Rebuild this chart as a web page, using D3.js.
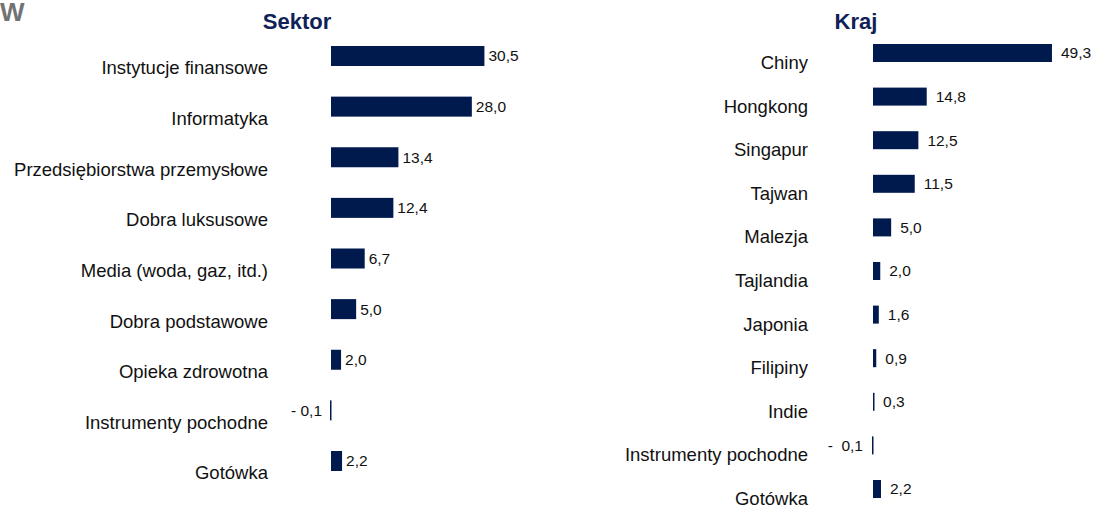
<!DOCTYPE html>
<html lang="pl">
<head>
    <meta charset="UTF-8">
    <title>Sektor / Kraj</title>
    <script src="https://d3js.org/d3.v7.min.js"></script>
    <style>
        body {margin: 0; background: #fff;}
        svg {display: block; font-family: "Liberation Sans", Arial, sans-serif;}
        text {white-space: pre;}
    </style>
</head>
<body>
<script>
    const width = 1104;
    const height = 508;

    // data
    const sectorNames = ["Instytucje finansowe", "Informatyka", "Przedsiębiorstwa przemysłowe",
        "Dobra luksusowe", "Media (woda, gaz, itd.)", "Dobra podstawowe", "Opieka zdrowotna",
        "Instrumenty pochodne", "Gotówka"];
    const sectorValues = [30.5, 28.0, 13.4, 12.4, 6.7, 5.0, 2.0, -0.1, 2.2];

    const countryNames = ["Chiny", "Hongkong", "Singapur", "Tajwan", "Malezja", "Tajlandia",
        "Japonia", "Filipiny", "Indie", "Instrumenty pochodne", "Gotówka"];
    const countryValues = [49.3, 14.8, 12.5, 11.5, 5.0, 2.0, 1.6, 0.9, 0.3, -0.1, 2.2];

    const barColor = "#001a4e";

    const svg = d3.select("body").append("svg")
            .attr("width", width).attr("height", height);

    svg.append("text")
            .attr("x", 0).attr("y", 21)
            .style("font-size", "26px").style("font-weight", "bold")
            .style("fill", "#707274")
            .text("W");

    // value format: polish decimal comma, negatives as "- 0,1"
    function fmt(v, negGap) {
        const s = Math.abs(v).toFixed(1).replace(".", ",");
        return v < 0 ? "-" + negGap + s : s;
    }

    function panel(opt) {
        const g = svg.append("g");
        const data = opt.names.map((n, i) => ({name: n, value: opt.values[i]}));

        const x = d3.scaleLinear()
                .domain([0, d3.max(opt.values)])
                .range([opt.x0, opt.x0 + d3.max(opt.values) * opt.pxPerUnit]);

        const y = d3.scalePoint()
                .domain(opt.names)
                .range([opt.yFirst, opt.yLast]);

        g.append("text")
                .attr("x", opt.titleX).attr("y", 29)
                .attr("text-anchor", "middle")
                .style("font-size", "22px").style("font-weight", "bold")
                .style("fill", "#0f2257")
                .text(opt.title);

        const row = g.selectAll("g.row")
                .data(data)
                .enter().append("g")
                .attr("class", "row");

        row.append("rect")
                .attr("x", d => d.value < 0 ? x(0) - 1 : x(0))
                .attr("y", d => y(d.name))
                .attr("width", d => Math.max(1.5, Math.abs(x(d.value) - x(0))))
                .attr("height", opt.barH)
                .style("fill", barColor);

        row.append("text")
                .attr("x", d => d.value < 0 ? x(0) - opt.negGap : x(d.value) + opt.valGap)
                .attr("y", d => y(d.name) + opt.barH / 2)
                .attr("dy", "0.35em")
                .attr("text-anchor", d => d.value < 0 ? "end" : "start")
                .style("font-size", "15.5px")
                .style("fill", "#111")
                .text(d => fmt(d.value, opt.negSpace));

        row.append("text")
                .attr("x", opt.labelX)
                .attr("y", d => y(d.name) + opt.barH / 2 + opt.labelOffset)
                .attr("dy", "0.35em")
                .attr("text-anchor", "end")
                .style("font-size", "18.5px")
                .style("fill", "#111")
                .text(d => d.name);
    }

    panel({
        title: "Sektor", titleX: 297,
        names: sectorNames, values: sectorValues,
        x0: 331, pxPerUnit: 5.03,
        yFirst: 46, yLast: 451, barH: 20,
        labelX: 268, labelOffset: 12,
        valGap: 4, negGap: 9, negSpace: " "
    });

    panel({
        title: "Kraj", titleX: 856,
        names: countryNames, values: countryValues,
        x0: 873, pxPerUnit: 3.63,
        yFirst: 44, yLast: 480, barH: 18,
        labelX: 808, labelOffset: 9.5,
        valGap: 9, negGap: 10, negSpace: "  "
    });
</script>
</body>
</html>
